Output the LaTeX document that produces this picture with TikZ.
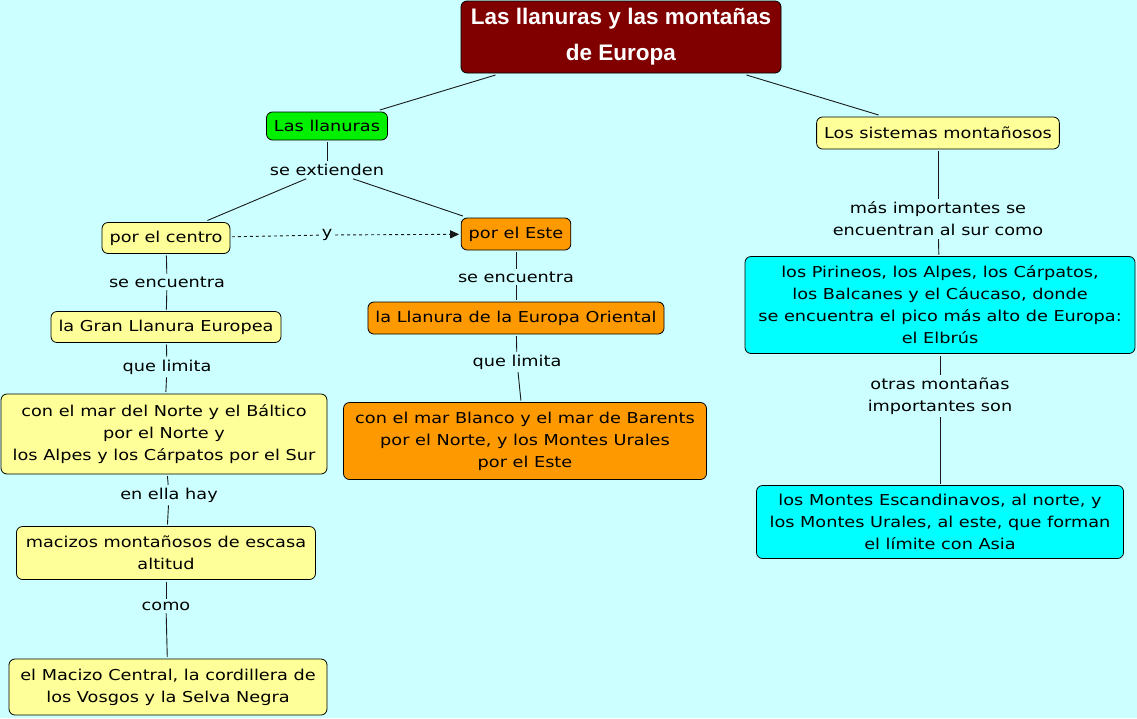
\documentclass[tikz,border=0pt]{standalone}
\usepackage{fontspec}
\setmainfont{DejaVu Sans}[FakeStretch=1.18]
\newfontfamily\titlefont{Liberation Sans}
\usepackage{tikz}
\usetikzlibrary{arrows.meta}
\definecolor{bgcyan}{RGB}{204,255,255}
\definecolor{cyellow}{RGB}{255,255,153}
\definecolor{corange}{RGB}{255,153,0}
\definecolor{cgreen}{RGB}{0,240,0}
\definecolor{ccyan}{RGB}{0,255,255}
\definecolor{cmaroon}{RGB}{128,0,0}
\tikzset{
  cpt/.style={draw=black, line width=0.8pt, rounded corners=6pt, align=center,
              inner xsep=7.5pt, inner ysep=6pt, outer sep=2pt,
              font=\fontsize{15}{22}\selectfont},
  link/.style={line width=0.9pt, black!90}
}

\begin{document}
\begin{tikzpicture}[x=1pt, y=-1pt,
  % yellow concept
  yel/.style   = {cpt, fill=cyellow},
  % orange concept
  org/.style   = {cpt, fill=corange},
  % cyan concept
  cyn/.style   = {cpt, fill=ccyan},
  % green concept
  grn/.style   = {cpt, fill=cgreen},
  % linking phrase (no box)
  lnk/.style   = {align=center, inner sep=1pt, outer sep=2pt,
                  font=\fontsize{15}{22}\selectfont},
]

% ──────────────────────────
%  background
% ──────────
\fill[bgcyan] (0,0) rectangle (1137,718);
\useasboundingbox (0,0) rectangle (1137,718);

% ══════════════════════
%  root
% ══════════════
\node[cpt, fill=cmaroon, text=white, inner ysep=4pt,
      font=\titlefont\bfseries\fontsize{22.5}{36}\selectfont,
      minimum width=320pt, minimum height=72pt] (root) at (621,37)
  {Las llanuras y las montañas\\de Europa};

% ══════════════════════
%  LEFT – las llanuras
% ══════════════
\node[grn, minimum height=28pt] (llan) at (327,126) {Las llanuras};
\node[lnk] (ext) at (327,170) {se extienden};

\node[yel, minimum height=31pt] (centro) at (166,238) {por el centro};
\node[org, minimum height=32pt] (este) at (516,234) {por el Este};
\node[lnk] (yy) at (327,235) {y};

% por el centro branch
\node[lnk] (enc1) at (167,282) {se encuentra};
\node[yel, minimum height=31pt] (gran) at (166,327) {la Gran Llanura Europea};
\node[lnk] (lim1) at (167,367) {que limita};
\node[yel, minimum width=326pt, minimum height=80pt] (mar1) at (164,434)
  {con el mar del Norte y el Báltico\\por el Norte y\\los Alpes y los Cárpatos por el Sur};
\node[lnk] (hay) at (169,495) {en ella hay};
\node[yel, minimum width=299pt, minimum height=53pt] (maciz) at (166,553)
  {macizos montañosos de escasa\\altitud};
\node[lnk] (como) at (166,606) {como};
\node[yel, minimum width=318pt, minimum height=56pt] (central) at (168,687)
  {el Macizo Central, la cordillera de\\los Vosgos y la Selva Negra};

% por el Este branch
\node[lnk] (enc2) at (516,277) {se encuentra};
\node[org, minimum height=32pt] (orient) at (516,318) {la Llanura de la Europa Oriental};
\node[lnk] (lim2) at (517,362) {que limita};
\node[org, minimum width=363pt, minimum height=77pt] (mar2) at (525,441)
  {con el mar Blanco y el mar de Barents\\por el Norte, y los Montes Urales\\por el Este};

% ══════════════════════
%  RIGHT – los sistemas montañosos
% ══════════════
\node[yel, minimum height=32pt] (sist) at (938,133) {Los sistemas montañosos};
\node[lnk] (masimp) at (938,219) {más importantes se\\encuentran al sur como};
\node[cyn, minimum width=390pt, minimum height=97pt] (piri) at (940,305)
  {los Pirineos, los Alpes, los Cárpatos,\\los Balcanes y el Cáucaso, donde\\se encuentra el pico más alto de Europa:\\el Elbrús};
\node[lnk] (otras) at (940,396) {otras montañas\\importantes son};
\node[cyn, minimum width=367pt, minimum height=73pt] (escan) at (940,522)
  {los Montes Escandinavos, al norte, y\\los Montes Urales, al este, que forman\\el límite con Asia};

% ──────────────────────────
%  connectors
% ──────────
\draw[link] (root) -- (llan);
\draw[link] (root) -- (sist);
\draw[link] (llan) -- (ext);
\draw[link] (ext) -- (centro);
\draw[link] (ext) -- (este);
\draw[link, dashed] (centro) -- (yy);
\draw[link, dashed, -{Triangle[length=9pt, width=8pt]}] (yy) -- (este);
\draw[link] (centro) -- (enc1);
\draw[link] (enc1) -- (gran);
\draw[link] (gran) -- (lim1);
\draw[link] (lim1) -- (mar1);
\draw[link] (mar1) -- (hay);
\draw[link] (hay) -- (maciz);
\draw[link] (maciz) -- (como);
\draw[link] (como) -- (central);
\draw[link] (este) -- (enc2);
\draw[link] (enc2) -- (orient);
\draw[link] (orient) -- (lim2);
\draw[link] (lim2) -- (mar2);
\draw[link] (sist) -- (masimp);
\draw[link] (masimp) -- (piri);
\draw[link] (piri) -- (otras);
\draw[link] (otras) -- (escan);

\end{tikzpicture}
\end{document}
